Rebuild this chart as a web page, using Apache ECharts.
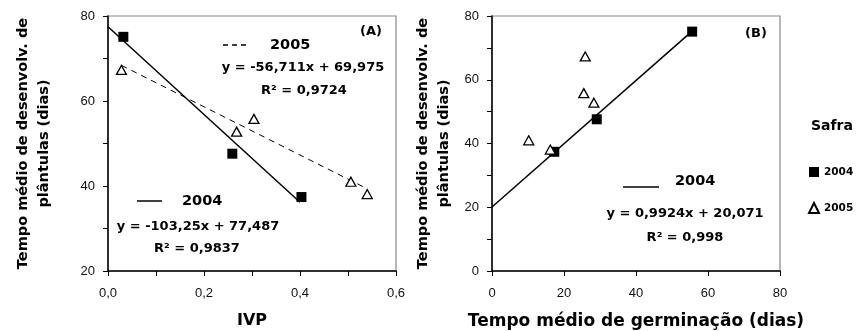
<!DOCTYPE html>
<html>
<head>
<meta charset="utf-8">
<script src="https://cdn.jsdelivr.net/npm/echarts@6/dist/echarts.min.js"></script>
<style>
html,body{margin:0;padding:0;background:#fff;}
#c{width:860px;height:331px;}
</style>
</head>
<body>
<div id="c"></div>
<script>
// ---- data ----
const seriesNames = ['2004', '2005'];
// seedling development time (days), shared by both panels
const y2004 = [75.1, 47.6, 37.4];
const y2005 = [67.3, 52.8, 55.8, 41.0, 38.1];
// panel A: IVP
const ivp2004 = [0.032, 0.259, 0.403];
const ivp2005 = [0.028, 0.268, 0.304, 0.506, 0.540];
// panel B: mean germination time (days)
const tmg2004 = [55.6, 29.1, 17.3];
const tmg2005 = [25.9, 28.3, 25.5, 10.2, 16.2];
// fitted lines shown in the chart: [slope, intercept, xStart, xEnd]
const fitA2004 = [-103.25, 77.487, 0, 0.40];
const fitA2005 = [-56.711, 69.975, 0.028, 0.54];
const fitB2004 = [0.9924, 20.071, 0, 55.6];
// tick settings
const yTicksA = [20, 80, 10];
const xTicksA = [0, 0.6, 0.1];
const yTicksB = [0, 80, 10];
const xTicksB = [0, 80, 20];
const yTitle = 'Tempo médio de desenvolv. de\nplântulas (dias)';
const xTitleA = 'IVP';
const xTitleB = 'Tempo médio de germinação (dias)';

const pts = (xs, ys) => xs.map((x, i) => [x, ys[i]]);
const fitLine = f => [[f[2], f[0] * f[2] + f[1]], [f[3], f[0] * f[3] + f[1]]];

const BOLD = 'DejaVu Sans';
const REG = 'Liberation Sans';

function axisCommon() {
  return {
    type: 'value',
    axisLine: { show: true, lineStyle: { color: '#000', width: 1.5 } },
    axisTick: { show: true, inside: false, length: 5, lineStyle: { color: '#000', width: 1 } },
    splitLine: { show: false },
    axisLabel: { color: '#111', fontFamily: REG, fontSize: 13 }
  };
}
function yAxisDef(grid, t, gap) {
  const a = axisCommon();
  Object.assign(a, {
    gridIndex: grid, min: t[0], max: t[1], interval: t[2],
    name: yTitle, nameLocation: 'middle', nameGap: gap, nameRotate: 90,
    nameTextStyle: { fontFamily: BOLD, fontWeight: 'bold', fontSize: 14.5, lineHeight: 20.5, color: '#000', align: 'center' }
  });
  a.axisLabel = Object.assign({}, a.axisLabel, { margin: 13, formatter: v => (Math.round(v) % 20 === 0 ? String(Math.round(v)) : '') });
  return a;
}
function xAxisDef(grid, t, name, fmt, fs) {
  const a = axisCommon();
  Object.assign(a, {
    gridIndex: grid, min: t[0], max: t[1], interval: t[2],
    name: name, nameLocation: 'middle', nameGap: 42,
    nameTextStyle: { fontFamily: BOLD, fontWeight: 'bold', fontSize: fs, color: '#000' }
  });
  a.axisLabel = Object.assign({}, a.axisLabel, { margin: 16, formatter: fmt });
  return a;
}

const sq = { symbol: 'rect', symbolSize: 10, itemStyle: { color: '#000', opacity: 1 } };
const tri = { symbol: 'triangle', symbolSize: [10, 9], itemStyle: { color: '#fff', borderColor: '#000', borderWidth: 1.3, opacity: 1 } };

function txt(x, y, s, size, align) {
  return {
    type: 'text', z: 50,
    style: { text: s, x: x, y: y, font: 'bold ' + size + 'px "' + BOLD + '"', fill: '#000',
      align: align || 'center', verticalAlign: 'middle', textAlign: align || 'center', textVerticalAlign: 'middle' }
  };
}
function ln(x1, x2, y, dash) {
  return { type: 'line', z: 50, shape: { x1: x1, y1: y, x2: x2, y2: y },
    style: { stroke: '#000', lineWidth: 1.5, lineDash: dash || null } };
}

const gridBase = { top: 16, width: 288, height: 255, show: true, borderColor: '#888', borderWidth: 1.2,
  backgroundColor: 'transparent', containLabel: false, outerBoundsMode: 'none' };

const option = {
  animation: false,
  backgroundColor: '#fff',
  textStyle: { fontFamily: REG },
  grid: [
    Object.assign({ left: 108 }, gridBase),
    Object.assign({ left: 492 }, gridBase)
  ],
  xAxis: [
    xAxisDef(0, xTicksA, xTitleA, v => { const k = Math.round(v * 10); return k % 2 === 0 ? (k / 10).toFixed(1).replace('.', ',') : ''; }, 16),
    xAxisDef(1, xTicksB, xTitleB, v => String(Math.round(v)), 17)
  ],
  yAxis: [
    yAxisDef(0, yTicksA, 54),
    yAxisDef(1, yTicksB, 38)
  ],
  title: {
    text: 'Safra', left: 811, top: 119, padding: 0,
    textStyle: { fontFamily: BOLD, fontWeight: 'bold', fontSize: 14, color: '#000' }
  },
  legend: {
    data: seriesNames, orient: 'vertical', left: 808, top: 166, padding: 0,
    itemWidth: 10, itemHeight: 10, itemGap: 24,
    textStyle: { fontFamily: BOLD, fontWeight: 'bold', fontSize: 10.5, color: '#000', lineHeight: 12 }
  },
  series: [
    { name: 'fitA2004', type: 'line', xAxisIndex: 0, yAxisIndex: 0, data: fitLine(fitA2004), symbol: 'none', lineStyle: { color: '#000', width: 1.5 }, z: 2 },
    { name: 'fitA2005', type: 'line', xAxisIndex: 0, yAxisIndex: 0, data: fitLine(fitA2005), symbol: 'none', lineStyle: { color: '#000', width: 1, type: [6, 5] }, z: 2 },
    { name: 'fitB2004', type: 'line', xAxisIndex: 1, yAxisIndex: 1, data: fitLine(fitB2004), symbol: 'none', lineStyle: { color: '#000', width: 1.5 }, z: 2 },
    Object.assign({ name: seriesNames[0], type: 'scatter', xAxisIndex: 0, yAxisIndex: 0, data: pts(ivp2004, y2004), z: 5 }, sq),
    Object.assign({ name: seriesNames[1], type: 'scatter', xAxisIndex: 0, yAxisIndex: 0, data: pts(ivp2005, y2005), z: 5 }, tri),
    Object.assign({ name: seriesNames[0], type: 'scatter', xAxisIndex: 1, yAxisIndex: 1, data: pts(tmg2004, y2004), z: 5 }, sq),
    Object.assign({ name: seriesNames[1], type: 'scatter', xAxisIndex: 1, yAxisIndex: 1, data: pts(tmg2005, y2005), z: 5 }, tri)
  ],
  graphic: [
    txt(371, 32, '(A)', 13),
    ln(223, 250, 45, [5, 4]),
    txt(270, 45, '2005', 14.5, 'left'),
    txt(303, 68, 'y = -56,711x + 69,975', 13),
    txt(304, 91, 'R² = 0,9724', 13),
    ln(137, 162, 201),
    txt(182, 201, '2004', 14.5, 'left'),
    txt(198, 227, 'y = -103,25x + 77,487', 13),
    txt(197, 249, 'R² = 0,9837', 13),
    txt(756, 34, '(B)', 13),
    ln(623, 659, 187),
    txt(675, 181, '2004', 14.5, 'left'),
    txt(685, 214, 'y = 0,9924x + 20,071', 13),
    txt(685, 238, 'R² = 0,998', 13)
  ]
};

const chart = echarts.init(document.getElementById('c'), null, { renderer: 'canvas' });
chart.setOption(option);
</script>
</body>
</html>
